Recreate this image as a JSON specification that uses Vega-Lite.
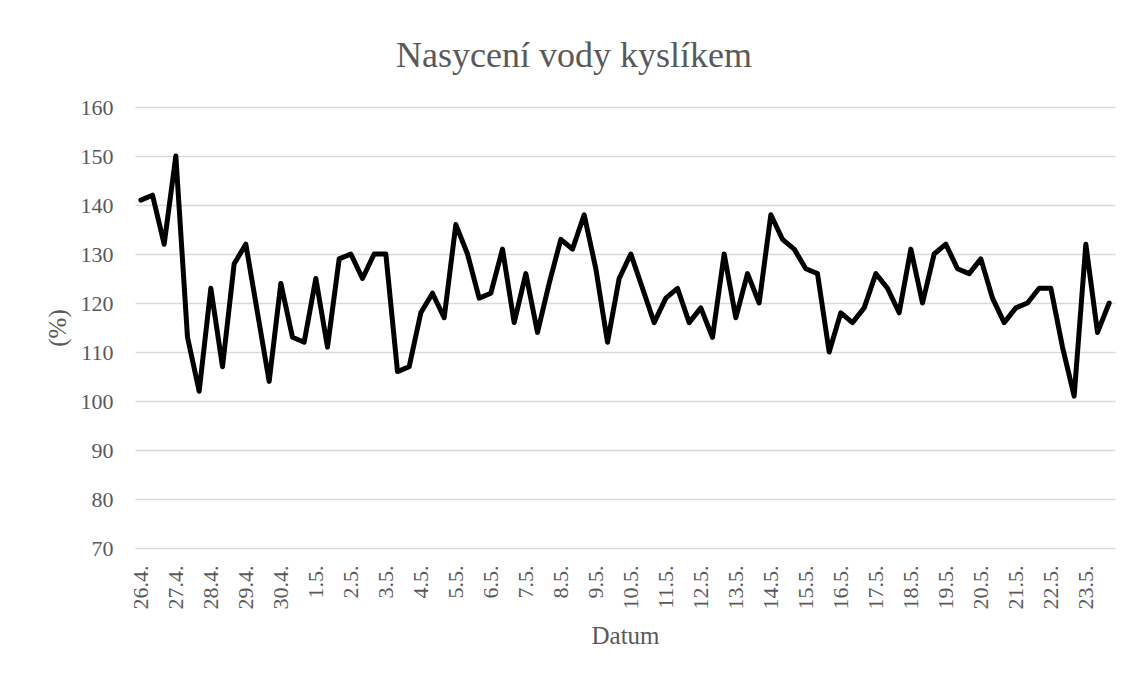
{
  "$schema": "https://vega.github.io/schema/vega-lite/v6.json",
  "width": 980,
  "height": 441,
  "autosize": {"type": "none"},
  "padding": {"left": 135, "top": 107, "right": 18, "bottom": 126},
  "background": "white",
  "title": {
    "text": "Nasycení vody kyslíkem",
    "font": "Liberation Serif",
    "fontSize": 36,
    "fontWeight": "normal",
    "color": "#595959",
    "anchor": "middle",
    "baseline": "alphabetic",
    "offset": 40,
    "dx": -51,
    "dy": 47
  },
  "config": {
    "view": {"stroke": null},
    "axis": {
      "labelFont": "Liberation Serif",
      "titleFont": "Liberation Serif",
      "labelColor": "#595959",
      "titleColor": "#595959",
      "titleFontWeight": "normal"
    }
  },
  "data": {
    "values": [
      {"k": "26.4./1", "v": 141}, {"k": "26.4./2", "v": 142}, {"k": "26.4./3", "v": 132},
      {"k": "27.4./1", "v": 150}, {"k": "27.4./2", "v": 113}, {"k": "27.4./3", "v": 102},
      {"k": "28.4./1", "v": 123}, {"k": "28.4./2", "v": 107}, {"k": "28.4./3", "v": 128},
      {"k": "29.4./1", "v": 132}, {"k": "29.4./2", "v": 118}, {"k": "29.4./3", "v": 104},
      {"k": "30.4./1", "v": 124}, {"k": "30.4./2", "v": 113}, {"k": "30.4./3", "v": 112},
      {"k": "1.5./1", "v": 125}, {"k": "1.5./2", "v": 111}, {"k": "1.5./3", "v": 129},
      {"k": "2.5./1", "v": 130}, {"k": "2.5./2", "v": 125}, {"k": "2.5./3", "v": 130},
      {"k": "3.5./1", "v": 130}, {"k": "3.5./2", "v": 106}, {"k": "3.5./3", "v": 107},
      {"k": "4.5./1", "v": 118}, {"k": "4.5./2", "v": 122}, {"k": "4.5./3", "v": 117},
      {"k": "5.5./1", "v": 136}, {"k": "5.5./2", "v": 130}, {"k": "5.5./3", "v": 121},
      {"k": "6.5./1", "v": 122}, {"k": "6.5./2", "v": 131}, {"k": "6.5./3", "v": 116},
      {"k": "7.5./1", "v": 126}, {"k": "7.5./2", "v": 114}, {"k": "7.5./3", "v": 124},
      {"k": "8.5./1", "v": 133}, {"k": "8.5./2", "v": 131}, {"k": "8.5./3", "v": 138},
      {"k": "9.5./1", "v": 127}, {"k": "9.5./2", "v": 112}, {"k": "9.5./3", "v": 125},
      {"k": "10.5./1", "v": 130}, {"k": "10.5./2", "v": 123}, {"k": "10.5./3", "v": 116},
      {"k": "11.5./1", "v": 121}, {"k": "11.5./2", "v": 123}, {"k": "11.5./3", "v": 116},
      {"k": "12.5./1", "v": 119}, {"k": "12.5./2", "v": 113}, {"k": "12.5./3", "v": 130},
      {"k": "13.5./1", "v": 117}, {"k": "13.5./2", "v": 126}, {"k": "13.5./3", "v": 120},
      {"k": "14.5./1", "v": 138}, {"k": "14.5./2", "v": 133}, {"k": "14.5./3", "v": 131},
      {"k": "15.5./1", "v": 127}, {"k": "15.5./2", "v": 126}, {"k": "15.5./3", "v": 110},
      {"k": "16.5./1", "v": 118}, {"k": "16.5./2", "v": 116}, {"k": "16.5./3", "v": 119},
      {"k": "17.5./1", "v": 126}, {"k": "17.5./2", "v": 123}, {"k": "17.5./3", "v": 118},
      {"k": "18.5./1", "v": 131}, {"k": "18.5./2", "v": 120}, {"k": "18.5./3", "v": 130},
      {"k": "19.5./1", "v": 132}, {"k": "19.5./2", "v": 127}, {"k": "19.5./3", "v": 126},
      {"k": "20.5./1", "v": 129}, {"k": "20.5./2", "v": 121}, {"k": "20.5./3", "v": 116},
      {"k": "21.5./1", "v": 119}, {"k": "21.5./2", "v": 120}, {"k": "21.5./3", "v": 123},
      {"k": "22.5./1", "v": 123}, {"k": "22.5./2", "v": 111}, {"k": "22.5./3", "v": 101},
      {"k": "23.5./1", "v": 132}, {"k": "23.5./2", "v": 114}, {"k": "23.5./3", "v": 120}
    ]
  },
  "mark": {"type": "line", "color": "#000000", "strokeWidth": 5, "strokeJoin": "round", "strokeCap": "round"},
  "encoding": {
    "x": {
      "field": "k",
      "type": "ordinal",
      "sort": null,
      "scale": {"type": "point", "padding": 0.5},
      "axis": {
        "title": "Datum",
        "titleFontSize": 25,
        "titlePadding": 14,
        "labelFontSize": 22,
        "labelAngle": 270,
        "labelPadding": 17,
        "labelOverlap": false,
        "labelExpr": "split(datum.value, '/')[1] == '1' ? split(datum.value, '/')[0] : ''",
        "ticks": false,
        "domain": false,
        "grid": false
      }
    },
    "y": {
      "field": "v",
      "type": "quantitative",
      "scale": {"domain": [70, 160], "nice": false, "zero": false},
      "axis": {
        "title": "(%)",
        "titleFontSize": 25,
        "titlePadding": 10,
        "labelFontSize": 22,
        "labelPadding": 22,
        "values": [70, 80, 90, 100, 110, 120, 130, 140, 150, 160],
        "ticks": false,
        "domain": false,
        "grid": true,
        "gridColor": "#d9d9d9",
        "gridWidth": 1.5
      }
    }
  }
}
